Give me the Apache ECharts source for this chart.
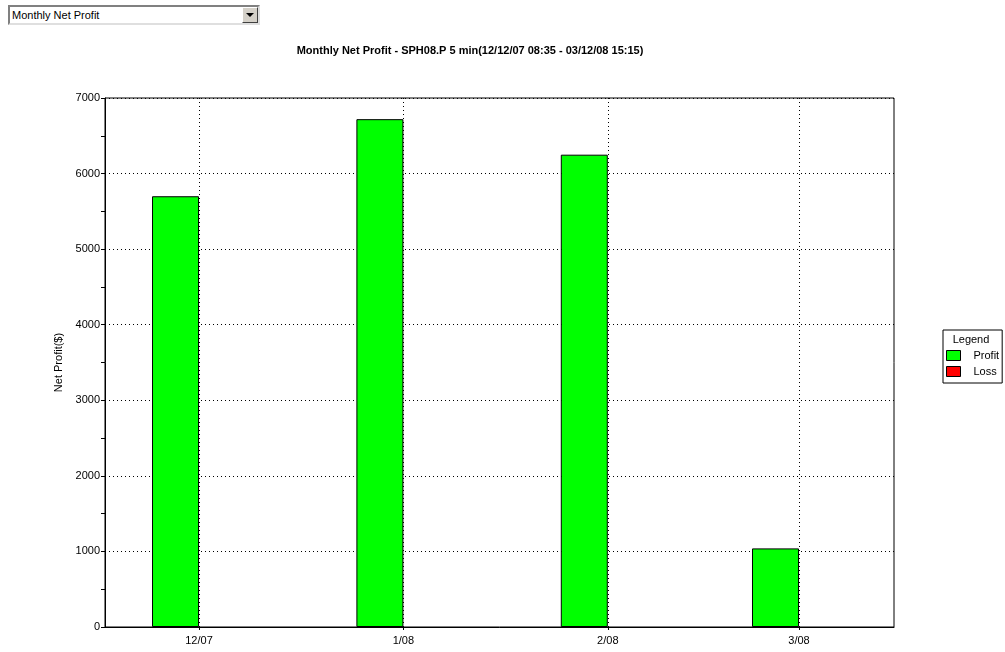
<!DOCTYPE html>
<html>
<head>
<meta charset="utf-8">
<script src="https://cdn.jsdelivr.net/npm/echarts@6/dist/echarts.min.js"></script>
<style>
  html, body { margin: 0; padding: 0; background: #fff; }
  #chart { position: absolute; left: 0; top: 0; width: 1005px; height: 652px; }
  #dd {
    position: absolute; left: 8px; top: 5px; width: 248px; height: 16px;
    border-top: 2px solid #808080; border-left: 2px solid #808080;
    border-bottom: 2px solid #dfdfdf; border-right: 2px solid #dfdfdf;
    background: #fff; font: 11px "Liberation Sans", Arial, sans-serif;
    line-height: 16px; z-index: 2;
  }
  #dd span { position: absolute; left: 2px; top: 0; }
  #dd .btn {
    position: absolute; right: 0; top: 0; width: 14px; height: 14px;
    background: #d4d0c8; border-top: 1px solid #fff; border-left: 1px solid #fff;
    border-bottom: 1px solid #404040; border-right: 1px solid #404040;
  }
  #dd .btn:after {
    content: ""; position: absolute; left: 3px; top: 5px;
    border-left: 4px solid transparent; border-right: 4px solid transparent;
    border-top: 4px solid #000;
  }
</style>
</head>
<body>
<div id="dd"><span>Monthly Net Profit</span><div class="btn"></div></div>
<div id="chart"></div>
<script>
// ---- data ----
var monthDates = ['2007-12-01', '2008-01-01', '2008-02-01', '2008-03-01'];
var monthLabels = ['12/07', '1/08', '2/08', '3/08'];
var profitValues = [5700, 6720, 6250, 1040];
var lossValues = [0, 0, 0, 0];
var yTicks = [0, 1000, 2000, 3000, 4000, 5000, 6000, 7000];
var chartTitle = 'Monthly Net Profit - SPH08.P 5 min(12/12/07 08:35 - 03/12/08 15:15)';
var yAxisTitle = 'Net Profit($)';
var seriesNames = ['Profit', 'Loss'];

var DAY = 86400000;
function toDay(s) {
  var p = s.split('-');
  return Math.round(Date.UTC(+p[0], +p[1] - 1, +p[2]) / DAY);
}
var monthDays = monthDates.map(toDay);
// a zero month draws no bar
var profitData = monthDays.map(function (t, i) { return [t, profitValues[i] === 0 ? null : profitValues[i]]; });
var lossData = monthDays.map(function (t, i) { return [t, lossValues[i] === 0 ? null : lossValues[i]]; });

var font = '"Liberation Sans", Arial, sans-serif';
var chart = echarts.init(document.getElementById('chart'), null, { renderer: 'canvas' });

chart.setOption({
  animation: false,
  backgroundColor: '#fff',
  title: [{
    text: chartTitle,
    left: 465, top: 40, textAlign: 'center',
    textStyle: { fontFamily: font, fontSize: 11, fontWeight: 'bold', color: '#000' }
  }, {
    text: 'Legend',
    left: 966, top: 329, textAlign: 'center',
    textStyle: { fontFamily: font, fontSize: 11, fontWeight: 'normal', color: '#000' }
  }],
  legend: {
    orient: 'vertical',
    left: 943, top: 330,
    padding: [20, 3, 6, 3],
    borderColor: '#000', borderWidth: 1,
    itemWidth: 14, itemHeight: 10, itemGap: 5,
    icon: 'rect',
    data: seriesNames,
    textStyle: { fontFamily: font, fontSize: 11, color: '#000', padding: [0, 0, 0, 8] },
    itemStyle: { borderColor: '#000', borderWidth: 1 }
  },
  grid: {
    left: 105, right: 111, top: 98, bottom: 25,
    show: true, borderColor: '#000', borderWidth: 1, backgroundColor: 'transparent'
  },
  xAxis: {
    type: 'value',
    min: monthDays[0] - 14.26,
    max: monthDays[3] + 14.41,
    axisLine: { show: true, onZero: false, lineStyle: { color: '#000', width: 1 } },
    axisTick: { show: true, length: 3, customValues: monthDays, lineStyle: { color: '#000' } },
    axisLabel: {
      customValues: monthDays,
      margin: 8,
      fontFamily: font, fontSize: 11, color: '#000',
      formatter: function (v) {
        var i = monthDays.indexOf(v);
        return i >= 0 ? monthLabels[i] : '';
      }
    },
    splitLine: { show: true, lineStyle: { color: '#000', type: [1, 3], width: 1 } }
  },
  yAxis: {
    type: 'value',
    min: yTicks[0], max: yTicks[yTicks.length - 1], interval: 1000,
    name: yAxisTitle,
    nameLocation: 'middle',
    nameGap: 35,
    nameTextStyle: { fontFamily: font, fontSize: 11, color: '#000' },
    axisLine: { show: true, lineStyle: { color: '#000', width: 1 } },
    axisTick: { show: true, length: 4, lineStyle: { color: '#000' } },
    minorTick: { show: true, splitNumber: 2, length: 4, lineStyle: { color: '#000' } },
    axisLabel: {
      margin: 5, fontFamily: font, fontSize: 11, color: '#000',
      formatter: function (v) { return String(v); }
    },
    splitLine: { show: true, lineStyle: { color: '#000', type: [1, 3], width: 1 } }
  },
  series: [{
    name: seriesNames[0],
    type: 'bar',
    data: profitData,
    barWidth: 47,
    barGap: '0%',
    itemStyle: { color: '#00ff00', borderColor: '#000', borderWidth: 1 }
  }, {
    name: seriesNames[1],
    type: 'bar',
    data: lossData,
    barWidth: 47,
    barGap: '0%',
    itemStyle: { color: '#ff0000', borderColor: '#000', borderWidth: 1 }
  }]
});
</script>
</body>
</html>
